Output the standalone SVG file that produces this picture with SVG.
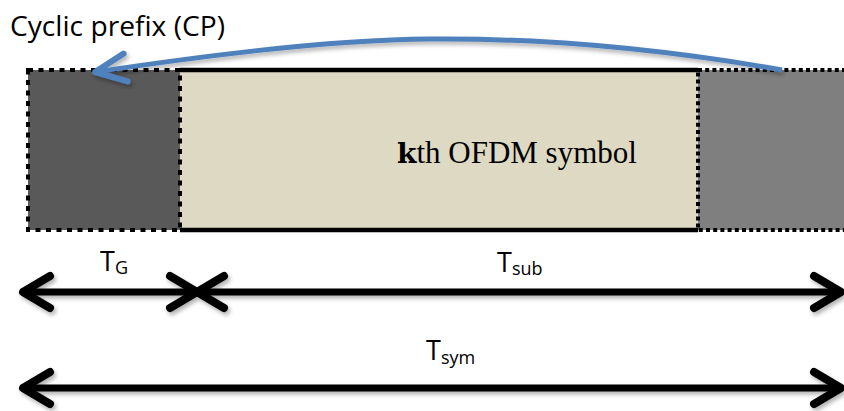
<svg xmlns="http://www.w3.org/2000/svg" width="844" height="411" viewBox="0 0 844 411">
  <style>
    .label { font-family: "Open Sans", "Noto Sans", "Liberation Sans", sans-serif; fill: #000; }
    .serif { font-family: "Liberation Serif", "Times New Roman", serif; fill: #000; }
    .bold-k { font-family: "DejaVu Serif", "Liberation Serif", serif; font-weight: bold; }
    .dotted { stroke: #000; stroke-width: 4; fill: none; }
    .solid { stroke: #000; stroke-width: 4.5; fill: none; }
    .span { stroke: #000; stroke-width: 7; fill: none; }
    .curve { stroke: #4F81BD; stroke-width: 5; fill: none; }
  </style>
  <defs>
    <filter id="soft-shadow" x="-10%" y="-50%" width="120%" height="200%">
      <feDropShadow dx="2" dy="3" stdDeviation="2" flood-color="#000" flood-opacity="0.3"/>
    </filter>
    <!-- open chevron head for the time-span arrows -->
    <marker id="chevron" viewBox="-40 -25 50 50" markerWidth="50" markerHeight="50" refX="0" refY="0" markerUnits="userSpaceOnUse" orient="auto-start-reverse">
      <path d="M -27 -16 L 0 0 L -27 16" fill="none" stroke="#000" stroke-width="8" stroke-linecap="round" stroke-linejoin="round"/>
    </marker>
    <!-- open head for the cyclic prefix copy arrow -->
    <marker id="blue-head" viewBox="-45 -25 55 50" markerWidth="55" markerHeight="50" refX="0" refY="0" markerUnits="userSpaceOnUse" orient="auto">
      <path d="M -31 -14 L 0 0 L -31 14" fill="none" stroke="#4F81BD" stroke-width="6" stroke-linecap="round" stroke-linejoin="round"/>
    </marker>
  </defs>

  <rect width="844" height="411" fill="#fff"/>

  <!-- OFDM symbol body -->
  <g id="symbol-body">
    <rect x="180" y="70" width="518" height="160" fill="#DDD9C3"/>
    <line class="solid" x1="180" y1="70" x2="698" y2="70"/>
    <line class="solid" x1="180" y1="230" x2="698" y2="230"/>
    <text class="serif" x="397" y="163" font-size="31"><tspan class="bold-k" font-size="28">k</tspan>th OFDM symbol</text>
  </g>

  <!-- guard interval (cyclic prefix) -->
  <g id="cyclic-prefix">
    <rect x="28" y="70" width="152" height="160" fill="#595959"/>
    <rect class="dotted" x="28" y="70" width="152" height="160" stroke-dasharray="5 5.5"/>
  </g>

  <!-- tail of the symbol that is copied -->
  <g id="symbol-tail">
    <rect x="698" y="70" width="160" height="160" fill="#7F7F7F"/>
    <rect class="dotted" x="698" y="70" width="160" height="160" stroke-dasharray="4 3.2"/>
  </g>

  <g id="cp-label">
    <text class="label" x="10" y="36" font-size="27" textLength="215" lengthAdjust="spacingAndGlyphs">Cyclic prefix (CP)</text>
  </g>

  <g id="span-labels">
    <text class="label" x="100" y="271" font-size="27">T<tspan font-size="18" dy="3">G</tspan></text>
    <text class="label" x="497" y="272" font-size="27">T<tspan font-size="18" dy="3">sub</tspan></text>
    <text class="label" x="426" y="360" font-size="27">T<tspan font-size="18" dy="4">sym</tspan></text>
  </g>

  <!-- connectors -->
  <g id="connectors">
    <path class="curve" filter="url(#soft-shadow)" d="M 782 70 C 680 52, 560 38, 430 39 C 320 40, 190 58, 95 72" marker-end="url(#blue-head)"/>
    <g filter="url(#soft-shadow)">
      <line class="span" x1="23" y1="292" x2="197" y2="292" marker-start="url(#chevron)" marker-end="url(#chevron)"/>
      <line class="span" x1="197" y1="292" x2="841" y2="292" marker-start="url(#chevron)" marker-end="url(#chevron)"/>
      <line class="span" x1="23" y1="388" x2="841" y2="388" marker-start="url(#chevron)" marker-end="url(#chevron)"/>
    </g>
  </g>
</svg>
